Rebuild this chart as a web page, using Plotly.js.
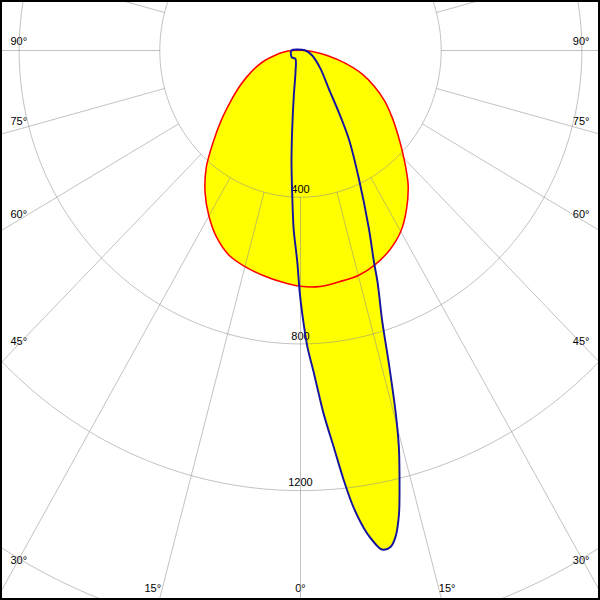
<!DOCTYPE html>
<html><head><meta charset="utf-8">
<script src="https://cdn.plot.ly/plotly-3.0.1.min.js"></script>
<style>
html,body{margin:0;padding:0;width:600px;height:600px;overflow:hidden;background:#fff;}
#wrap{position:relative;width:600px;height:600px;overflow:hidden;}
#chart{position:absolute;left:-433.5px;top:-683.5px;width:1467px;height:1467px;transform:scaleX(0.959);transform-origin:733.5px 733.5px;}
#frame{position:absolute;left:0;top:0;width:600px;height:600px;box-sizing:border-box;border:2px solid #000;pointer-events:none;}
</style></head>
<body><div id="wrap"><div id="chart"></div><div id="frame"></div></div>
<script>
// C0-C180 plane (red), intensity per gamma angle
const redTheta = [-90,-85,-80,-75,-70,-65,-60,-55,-50,-45,-40,-35,-30,-25,-20,-15,-10,-5,0,5,10,15,20,25,30,35,40,45,50,55,60,65,70,75,80,85,90];
const redR = [24,47,73,105,136,167,203,243,293,350,417,473,521,563,594,610,622,633,643,646,640,635,621,600,570,526,476,416,363,318,277,232,186,130,77,37,14];

// C90-C270 plane (blue)
const blueTheta = [-90,-54.4,-32.1,-13.5,-8.8,-6.3,-4.8,-3.4,-2.3,-0.9,-0.2,0.4,1.4,2.5,3.8,5.0,6.0,6.9,8.2,9.5,9.9,10.7,11.5,12.5,13.5,14.5,15.3,16.4,17.5,18.6,19.2,19.9,21.8,25.4,29.7,32.9,37.6,48.7,67.8,90];
const blueR = [26,31,27,61,124,215,306,396,487,577,659,718,809,882,993,1086,1179,1255,1331,1378,1382,1378,1354,1294,1206,1117,1027,890,772,700,664,614,524,387,277,200,132,76,36,14];

// grid
const gridRadii = [400,800,1200,1600];
const radialTickLabels = ['400','800','1200'];
const radialTickValues = [400,800,1200];
const spokeStep = 15;

// angle labels (anchor position in chart units: x to the right, y downward)
const angleLabels = ['90°','75°','60°','45°','30°','15°','0°','15°','30°','45°','60°','75°','90°'];
const angleLabelX = [-801,-801,-801,-801,-801,-420,0,417,798,798,798,798,798];
const angleLabelY = [-22,196,450,796,1393,1468,1470,1468,1392,796,449,195,-23];

const gridColor = 'rgba(140,140,140,0.55)';
const fontFamily = 'Liberation Sans, Arial, sans-serif';

const traces = [];
traces.push({type:'scatterpolar', r:redR, theta:redTheta, mode:'lines', fill:'toself',
  fillcolor:'#ffff00', line:{width:0, color:'rgba(0,0,0,0)', shape:'spline', smoothing:0.8}, hoverinfo:'skip'});
traces.push({type:'scatterpolar', r:blueR, theta:blueTheta, mode:'lines', fill:'toself',
  fillcolor:'#ffff00', line:{width:0, color:'rgba(0,0,0,0)', shape:'spline', smoothing:0.8}, hoverinfo:'skip'});

// radial tick labels
traces.push({type:'scatterpolar', mode:'text', r:radialTickValues.map(v=>v-19), theta:radialTickValues.map(()=>0),
  text:radialTickLabels, textposition:'middle center', textfont:{family:fontFamily,size:11.5,color:'#000'},
  hoverinfo:'skip', cliponaxis:false});

// angle labels
const aR = angleLabelX.map((x,i)=>Math.hypot(x, angleLabelY[i]));
const aT = angleLabelX.map((x,i)=>Math.atan2(x, angleLabelY[i])*180/Math.PI);
traces.push({type:'scatterpolar', mode:'text', r:aR, theta:aT, text:angleLabels,
  textposition:'middle center', textfont:{family:fontFamily,size:11.5,color:'#000'},
  hoverinfo:'skip', cliponaxis:false});

// grid circles
gridRadii.forEach(rv=>{
  const th=[], rr=[];
  for(let a=0;a<=360;a+=1){th.push(a); rr.push(rv);}
  traces.push({type:'scatterpolar', mode:'lines', r:rr, theta:th, line:{color:gridColor,width:1}, hoverinfo:'skip'});
});
// spokes
{
  const th=[], rr=[];
  for(let a=0;a<360;a+=spokeStep){th.push(a,a,null); rr.push(gridRadii[0],2000,null);}
  traces.push({type:'scatterpolar', mode:'lines', r:rr, theta:th, line:{color:gridColor,width:1}, connectgaps:false, hoverinfo:'skip'});
}

traces.push({type:'scatterpolar', r:redR.concat([redR[0]]), theta:redTheta.concat([redTheta[0]]), mode:'lines',
  line:{color:'#ff0000', width:1.6, shape:'spline', smoothing:0.8}, hoverinfo:'skip'});
traces.push({type:'scatterpolar', r:blueR.concat([blueR[0]]), theta:blueTheta.concat([blueTheta[0]]), mode:'lines',
  line:{color:'#1414a0', width:2, shape:'spline', smoothing:0.8}, hoverinfo:'skip'});

const layout = {
  width:1467, height:1467,
  margin:{l:0,r:0,t:0,b:0,pad:0},
  paper_bgcolor:'#ffffff',
  showlegend:false,
  font:{family:fontFamily,size:11.5,color:'#000'},
  polar:{
    domain:{x:[0,1],y:[0,1]},
    bgcolor:'#ffffff',
    radialaxis:{range:[0,2000], showgrid:false, showline:false, showticklabels:false, ticks:''},
    angularaxis:{rotation:270, direction:'counterclockwise', showgrid:false, showline:false, showticklabels:false, ticks:''}
  }
};
Plotly.newPlot('chart', traces, layout, {staticPlot:true, displayModeBar:false});
</script>
</body></html>
